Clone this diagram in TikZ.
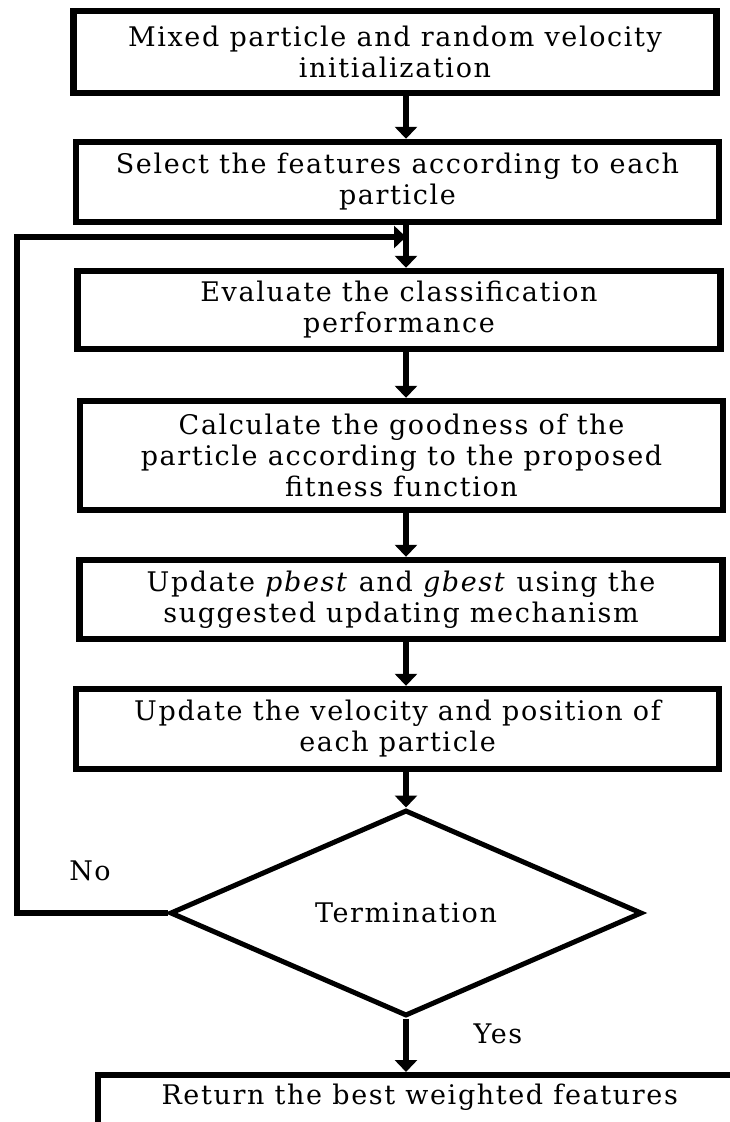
\documentclass[tikz,border=0pt]{standalone}
\usepackage{fontspec}
\setmainfont{DejaVu Serif}[LetterSpace=6]
\usetikzlibrary{shapes.geometric,arrows.meta}

\begin{document}
\begin{tikzpicture}[x=0.5pt, y=-0.5pt,
    font=\fontsize{13.5}{15.5}\selectfont,
    stepbox/.style={draw, line width=3.2pt, minimum width=321.5pt, align=center, inner sep=0pt},
    decision/.style={draw, diamond, aspect=2.3, line width=2.5pt, minimum width=236pt, minimum height=103pt, inner sep=0pt},
    arr/.style={line width=3pt, -{Triangle[width=11pt,length=6pt]}}]
    \useasboundingbox (0,0) rectangle (729,1122);

    \node[stepbox, minimum height=41pt] (init) at (395,52) {Mixed particle and random velocity\\initialization};
    \node[stepbox, minimum height=40pt] (select) at (397.5,182) {Select the features according to each\\particle};
    \node[stepbox, minimum height=39pt] (eval) at (399,310) {Evaluate the classification\\performance};
    \node[stepbox, minimum height=54.5pt] (fit) at (401.5,455.5) {Calculate the goodness of the\\particle according to the proposed\\fitness function};
    \node[stepbox, minimum height=39.5pt] (best) at (401,599.5) {Update \textit{pbest} and \textit{gbest} using the\\suggested updating mechanism};
    \node[stepbox, minimum height=40pt] (move) at (397.5,729) {Update the velocity and position of\\each particle};
    \node[decision] (stop) at (406,913) {Termination};
    \node[stepbox, anchor=north west, text height=10pt, text depth=40pt, inner ysep=4.4pt] (ret) at (95,1072) {Return the best weighted features};

    \node (no) at (90,871) {No};
    \node (yes) at (498,1034) {Yes};
    \coordinate (back) at (17,237);

    \draw[arr] (init.south -| stop) -- (select.north -| stop);
    \draw[arr] (select.south -| stop) -- (eval.north -| stop);
    \draw[arr] (eval.south -| stop) -- (fit.north -| stop);
    \draw[arr] (fit.south -| stop) -- (best.north -| stop);
    \draw[arr] (best.south -| stop) -- (move.north -| stop);
    \draw[arr] (move.south -| stop) -- (stop.north);
    \draw[arr] (stop.south) -- (ret.north -| stop);
    \draw[arr] (stop.west) -| (back) -- (back -| stop);
\end{tikzpicture}
\end{document}
